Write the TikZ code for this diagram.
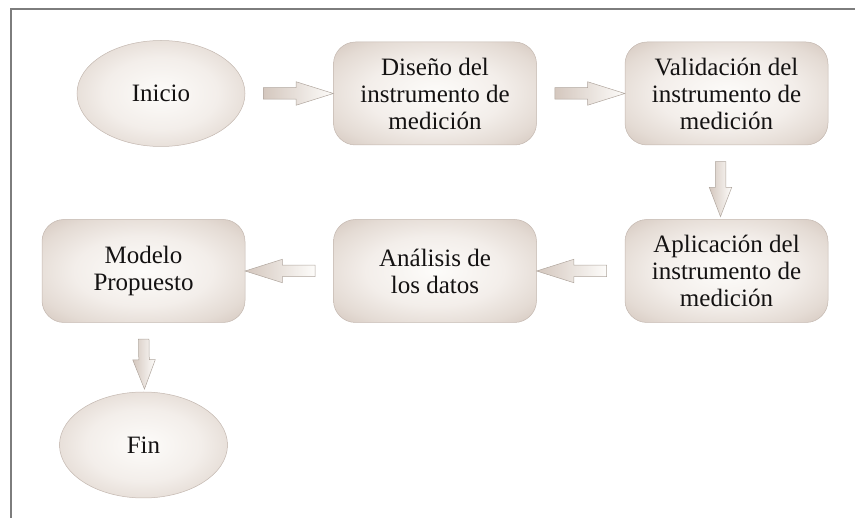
\documentclass[tikz,border=0pt]{standalone}
\usepackage{fontspec}
\setmainfont{Liberation Serif}
\usetikzlibrary{positioning}
\usetikzlibrary{shapes.geometric}
\usetikzlibrary{shapes.arrows}

\definecolor{boxin}{RGB}{253,252,250}
\definecolor{boxmid}{RGB}{243,238,234}
\definecolor{boxrim}{RGB}{228,219,212}
\definecolor{boxout}{RGB}{212,199,190}
\definecolor{boxcorner}{RGB}{200,186,176}
\definecolor{bordecol}{RGB}{196,184,176}
\definecolor{marcocol}{RGB}{125,125,125}
\definecolor{textocol}{RGB}{20,18,18}

\pgfdeclareradialshading{caja}{\pgfpoint{0bp}{0bp}}{%
  color(0bp)=(boxin); color(17bp)=(boxmid); color(28bp)=(boxrim);
  color(36bp)=(boxout); color(50bp)=(boxcorner)}

\tikzset{
  fondo/.style={draw=bordecol, line width=0.5pt, shading=caja,
    align=center, inner sep=0pt, text=textocol, font=\fontsize{25}{27}\selectfont},
  paso/.style={fondo, rectangle, rounded corners=22pt, minimum width=203pt, minimum height=103pt},
  extremo/.style={fondo, ellipse, minimum width=168pt, minimum height=106pt},
  flecha/.style={single arrow, draw=bordecol!90!black, line width=0.5pt, left color=boxout, right color=boxin,
    inner sep=5.5pt, single arrow head extend=6pt, single arrow tip angle=35,
    minimum height=70pt, sloped, allow upside down, midway},
  flechav/.style={flecha, inner sep=5pt, single arrow tip angle=42, minimum height=#1},
}

\begin{document}
\begin{tikzpicture}
	\useasboundingbox (0pt,0pt) rectangle (855pt,-518pt);
	\draw[marcocol, line width=1.5pt] (855pt,-9pt) -- (11pt,-9pt) -- (11pt,-518pt);
	
	\node[extremo](inicio) at (161pt,-93.5pt){Inicio};
	\node[paso, right=88pt of inicio](diseno){Diseño del\\instrumento de\\medición};
	\node[paso, right=88pt of diseno](validacion){Validación del\\instrumento de\\medición};
	
	\node[paso, below=74pt of validacion](aplicacion){Aplicación del\\instrumento de\\medición};
	\node[paso, left=88pt of aplicacion](analisis){Análisis de\\los datos};
	\node[paso, left=88pt of analisis](modelo){Modelo\\Propuesto};
	
	\node[extremo, below=69pt of modelo](fin){Fin};
	
	\path (inicio) -- node[flecha]{} (diseno);
	\path (diseno) -- node[flecha]{} (validacion);
	\path ([xshift=-6pt]validacion.south) -- node[flechav=55pt]{} ([xshift=-6pt]aplicacion.north);
	\path (aplicacion) -- node[flecha]{} (analisis);
	\path (analisis) -- node[flecha]{} (modelo);
	\path (modelo.south) -- node[flechav=50pt]{} ([xshift=1pt]fin.north);
\end{tikzpicture}
\end{document}
